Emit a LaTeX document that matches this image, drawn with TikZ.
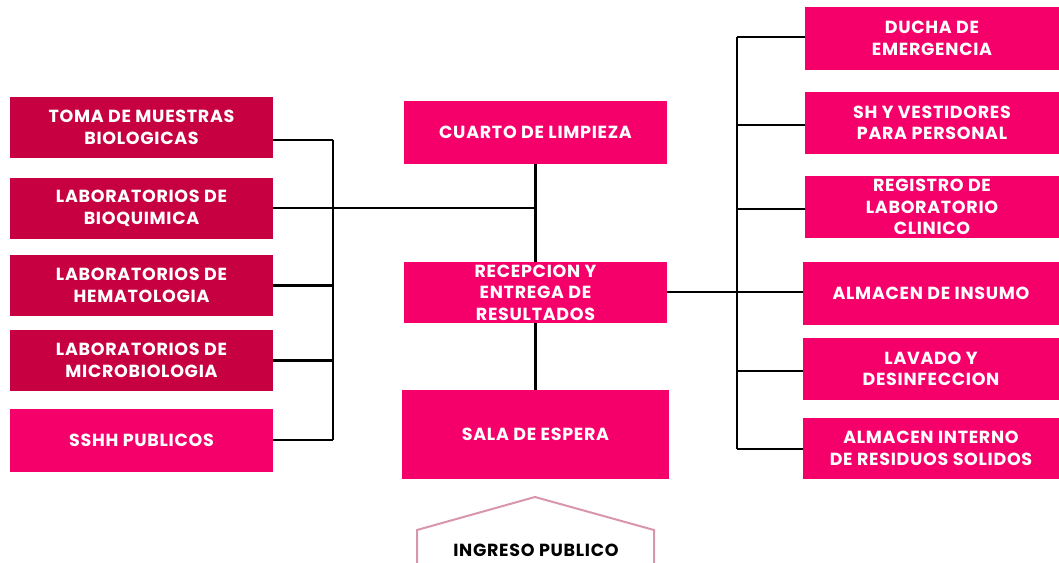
\documentclass[tikz,border=0pt]{standalone}
\usepackage{fontspec}
\setmainfont{Poppins}[LetterSpace=4]
\begin{document}
\begin{tikzpicture}[x=1pt,y=-1pt,
  box/.style={fill=#1, text=white, inner sep=0pt, align=center,
    font=\fontsize{17.5}{21.5}\selectfont\bfseries},
  box/.default=pinkc,
  conn/.style={line width=2.3pt, black},
]
\definecolor{darkc}{HTML}{C70042}
\definecolor{pinkc}{HTML}{F5006B}
\definecolor{mauve}{HTML}{D896AA}
\useasboundingbox (0,0) rectangle (1059,562);
% left column
\node[box=darkc, minimum width=263pt, minimum height=61pt] (b1) at (141.5,127.5) {TOMA DE MUESTRAS\\BIOLOGICAS};
\node[box=darkc, minimum width=263pt, minimum height=61pt] (b2) at (141.5,208.5) {LABORATORIOS DE\\BIOQUIMICA};
\node[box=darkc, minimum width=263pt, minimum height=61pt] (b3) at (141.5,285.5) {LABORATORIOS DE\\HEMATOLOGIA};
\node[box=darkc, minimum width=263pt, minimum height=61pt] (b4) at (141.5,360.5) {LABORATORIOS DE\\MICROBIOLOGIA};
\node[box, minimum width=263pt, minimum height=63pt] (b5) at (141.5,440.5) {SSHH PUBLICOS};
% center column
\node[box, minimum width=263pt, minimum height=63pt] (c1) at (535.5,132.5) {CUARTO DE LIMPIEZA};
\node[box, minimum width=263pt, minimum height=61pt] (c2) at (535.5,292.5) {RECEPCION Y\\ENTREGA DE\\RESULTADOS};
\node[box, minimum width=267pt, minimum height=89pt] (c3) at (535.5,434.5) {SALA DE ESPERA};
% right column
\node[box, minimum width=254pt, minimum height=63pt] (r1) at (932,38.5) {DUCHA DE\\EMERGENCIA};
\node[box, minimum width=254pt, minimum height=62pt] (r2) at (932,123) {SH Y VESTIDORES\\PARA PERSONAL};
\node[box, minimum width=254pt, minimum height=62pt] (r3) at (932,207) {REGISTRO DE\\LABORATORIO\\CLINICO};
\node[box, minimum width=256pt, minimum height=63pt] (r4) at (931,293.5) {ALMACEN DE INSUMO};
\node[box, minimum width=256pt, minimum height=62pt] (r5) at (931,369) {LAVADO Y\\DESINFECCION};
\node[box, minimum width=256pt, minimum height=61pt] (r6) at (931,448.5) {ALMACEN INTERNO\\DE RESIDUOS SOLIDOS};
% ingreso
\coordinate (p1) at (417,570);
\coordinate (p2) at (417,530);
\coordinate (p3) at (535,497);
\coordinate (p4) at (654,530);
\coordinate (p5) at (654,570);
\draw[mauve, line width=2pt] (p1) -- (p2) -- (p3) -- (p4) -- (p5);
\node[font=\fontsize{17.5}{21}\selectfont\bfseries, text=black, anchor=base, inner sep=0pt] (ing) at (536,556) {INGRESO PUBLICO};
% left bus
\coordinate (lt) at (333,140);
\coordinate (lb) at (333,440);
\coordinate (cj) at (536,208);
\draw[conn] (lt) -- (lb);
\draw[conn] (b1.east |- lt) -- (lt);
\draw[conn] (b2.east |- cj) -- (cj);
\draw[conn] (b3.east) -- (b3.east -| lt);
\draw[conn] (b4.east) -- (b4.east -| lt);
\draw[conn] (b5.east |- lb) -- (lb);
% center vertical
\draw[conn] (c1.south) -- (c2.north);
\draw[conn] (c2.south) -- (c3.north);
% right bus
\coordinate (rt) at (737,37);
\coordinate (rb) at (737,449);
\draw[conn] (rt) -- (rb);
\draw[conn] (rt) -- (r1.west |- rt);
\draw[conn] (r2.west |- 0,125) -- (r2.west |- 0,125 -| rt);
\draw[conn] (r3.west |- 0,209) -- (r3.west |- 0,209 -| rt);
\draw[conn] (c2.east |- 0,292) -- (r4.west |- 0,292);
\draw[conn] (r5.west |- 0,371) -- (r5.west |- 0,371 -| rt);
\draw[conn] (rb) -- (r6.west |- rb);
\end{tikzpicture}
\end{document}
